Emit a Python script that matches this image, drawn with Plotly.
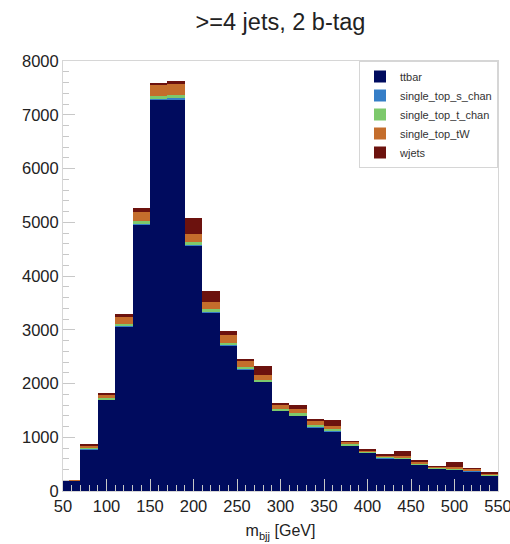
import numpy as np
import plotly.graph_objects as go

# m_bjj histogram: 25 bins of 20 GeV between 50 and 550 GeV
bin_edges = list(range(50, 551, 20))

ttbar = [190, 780, 1700, 3065, 4965, 7285, 7290, 4560, 3320, 2710,
         2260, 2030, 1490, 1400, 1185, 1100, 850, 710, 610, 605,
         485, 410, 400, 372, 280]
single_top_s_chan = [1, 5, 6, 6, 10, 15, 15, 15, 12, 10,
                     8, 8, 8, 8, 8, 8, 5, 4, 4, 4,
                     3, 3, 3, 3, 3]
single_top_t_chan = [3, 15, 20, 30, 45, 50, 60, 55, 45, 40,
                     40, 35, 35, 35, 35, 40, 25, 20, 20, 20,
                     18, 15, 15, 15, 15]
single_top_tW = [6, 50, 75, 130, 170, 210, 215, 160, 140, 135,
                 110, 90, 75, 75, 85, 62, 40, 25, 30, 25,
                 25, 20, 25, 20, 30]
wjets = [0, 20, 12, 70, 80, 40, 45, 280, 205, 80,
         45, 160, 37, 90, 32, 105, 10, 15, 12, 90,
         40, 10, 90, 6, 7]

samples = ["ttbar", "single_top_s_chan", "single_top_t_chan", "single_top_tW", "wjets"]
colors = ["#000b5e", "#357ec7", "#7dc96c", "#c46d2c", "#6c120e"]
values = [ttbar, single_top_s_chan, single_top_t_chan, single_top_tW, wjets]

x_major = list(range(50, 551, 50))
y_major = list(range(0, 8001, 1000))

edges = np.array(bin_edges)
centers = (edges[:-1] + edges[1:]) / 2
widths = np.diff(edges)

fig = go.Figure()
for name, col, vals in zip(samples, colors, values):
    fig.add_trace(go.Bar(
        x=centers, y=vals, width=widths, name=name,
        marker=dict(color=col, line=dict(width=0)),
        legendgroup=name,
    ))

axis_font = dict(family="Liberation Sans, Arial, sans-serif", size=16.5, color="#222222")

fig.update_layout(
    width=510, height=544,
    barmode="stack", bargap=0,
    paper_bgcolor="white", plot_bgcolor="white",
    margin=dict(l=63, r=12, t=61, b=53),
    font=dict(family="Liberation Sans, Arial, sans-serif", color="#222222"),
    title=dict(text=">=4 jets, 2 b-tag", x=0.55, xanchor="center",
               y=1 - 22 / 544, yanchor="middle", yref="container",
               font=dict(size=23.5, color="#222222")),
    legend=dict(x=1, y=1, xanchor="right", yanchor="top",
                bgcolor="white", bordercolor="#d6d6d6", borderwidth=1,
                font=dict(size=11, color="#333333"),
                traceorder="normal", tracegroupgap=3),
    xaxis=dict(range=[50, 550], tickvals=x_major, ticks="inside", ticklen=12,
               tickcolor="#c8c8c8", tickfont=axis_font, ticklabeloverflow="allow",
               automargin=False,
               minor=dict(dtick=10, ticks="inside", ticklen=6, tickcolor="#c8c8c8"),
               showgrid=False, zeroline=False, showline=True, mirror=True,
               linecolor="#d6d6d6", linewidth=1,
               title=dict(text="m<sub>bjj</sub> [GeV]", standoff=11,
                          font=dict(size=16, color="#222222"))),
    yaxis=dict(range=[0, 8000], tickvals=y_major, ticks="inside", ticklen=12,
               tickcolor="#c8c8c8", tickfont=axis_font, ticklabeloverflow="allow",
               automargin=False,
               minor=dict(dtick=200, ticks="inside", ticklen=6, tickcolor="#c8c8c8"),
               showgrid=False, zeroline=False, showline=True, mirror=True,
               linecolor="#d6d6d6", linewidth=1),
)

fig.write_html("out.html")
